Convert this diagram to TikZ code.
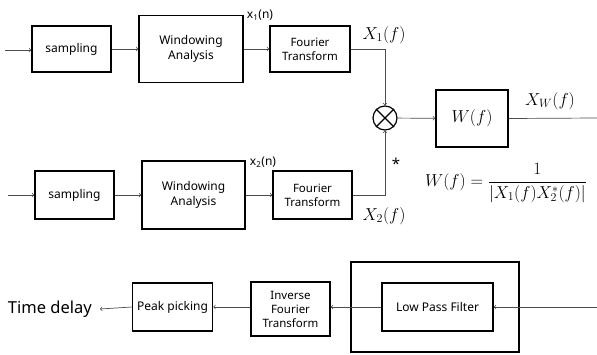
\documentclass[tikz,border=0pt]{standalone}
\usepackage{fontspec}
\setmainfont{Noto Sans}
\usetikzlibrary{calc}
\tikzset{ blk/.style = { rectangle % block
        , draw
        , line width = 1.5pt
        , align = center
        , inner sep = 1pt
        , font = \fontsize{12}{14.5}\selectfont
        }
        , small/.style = { blk % fourier boxes
        , font = \fontsize{11.5}{14}\selectfont
        }
        , sig/.style = { rectangle % signal label
        , inner sep = 0pt
        , font = \fontsize{18}{20}\selectfont
        }
        , arr/.style = { draw = black!70
        , ->
        , line width = 0.7pt
        }
        }
\begin{document}
\begin{tikzpicture}[x=1pt, y=-1pt]
        \useasboundingbox (0,0) rectangle (597,354);

        % upper channel
        \node [blk, minimum width=79, minimum height=46](samp1) at (71.5,49) {sampling};
        \node [blk, minimum width=104, minimum height=67](win1) at (191,49) {Windowing\\Analysis};
        \node [small, minimum width=80, minimum height=46](ft1) at (310,49) {Fourier\\Transform};
        \coordinate (in1) at (5,50);

        % lower channel
        \node [blk, minimum width=79, minimum height=48](samp2) at (74.5,195) {sampling};
        \node [blk, minimum width=103, minimum height=68](win2) at (193.5,195) {Windowing\\Analysis};
        \node [small, minimum width=79, minimum height=48](ft2) at (312.5,195) {Fourier\\Transform};
        \coordinate (in2) at (8,195);

        % product and weighting
        \node [circle, draw, line width=1.2pt, minimum size=24, inner sep=0pt](mult) at (385,118) {};
        \draw [line width=1.2pt] (mult.north east) -- (mult.south west) (mult.north west) -- (mult.south east);
        \node [blk, minimum width=72, minimum height=57](wbox) at (472,118.5) {\fontsize{18}{20}\selectfont$W(f)$};
        \coordinate (out) at (597,118);

        % labels
        \node [sig, font=\fontsize{12}{14}\selectfont](x1n) at (260,15) {x\textsubscript{1}(n)};
        \node [sig, font=\fontsize{12}{14}\selectfont](x2n) at (263,162) {x\textsubscript{2}(n)};
        \node [sig](X1f) at (384,35) {$X_1(f)$};
        \node [sig](X2f) at (384,216) {$X_2(f)$};
        \node [sig](XWf) at (550,101) {$X_W(f)$};
        \node [sig, font=\fontsize{15}{17}\selectfont](conj) at (396,164) {*};
        \node [sig](wdef) at (506,183) {$\displaystyle W(f)=\frac{1}{\left|X_1(f)X_2^{*}(f)\right|}$};

        % post processing
        \node [blk, minimum width=80, minimum height=48](peak) at (172.5,307) {Peak picking};
        \node [small, minimum width=79, minimum height=54](ift) at (290.5,309) {Inverse\\Fourier\\Transform};
        \node [blk, minimum width=168, minimum height=90](outer) at (435,307) {};
        \node [blk, minimum width=111, minimum height=48](lpf) at (437.5,307) {Low Pass Filter};
        \node [sig, font=\fontsize{16.5}{19}\selectfont, anchor=east](delay) at (92,309) {Time delay};
        \coordinate (lpfin) at (597,307);
        \coordinate (delayin) at ($(delay.east)+(8,0)$);

        \draw [arr] (in1) -- (samp1.west |- in1);
        \draw [arr] (samp1) -- (win1);
        \draw [arr] (win1) -- (ft1);
        \draw [arr] (in2) -- (samp2);
        \draw [arr] (samp2) -- (win2);
        \draw [arr] (win2) -- (ft2);
        \draw [arr] (ft1.east) -| (mult.north);
        \draw [arr] (ft2.east) -| (mult.south);
        \draw [arr] (mult) -- (wbox);
        \draw [draw=black!70, line width=0.7pt] (wbox.east) -- (out);
        \draw [arr] (lpfin) -- (lpf.east);
        \draw [arr] (lpf.west) -- (lpf.west -| ift.east);
        \draw [arr] (ift.west |- peak) -- (peak.east);
        \draw [arr] (peak.west) -- (delayin);
\end{tikzpicture}
\end{document}
